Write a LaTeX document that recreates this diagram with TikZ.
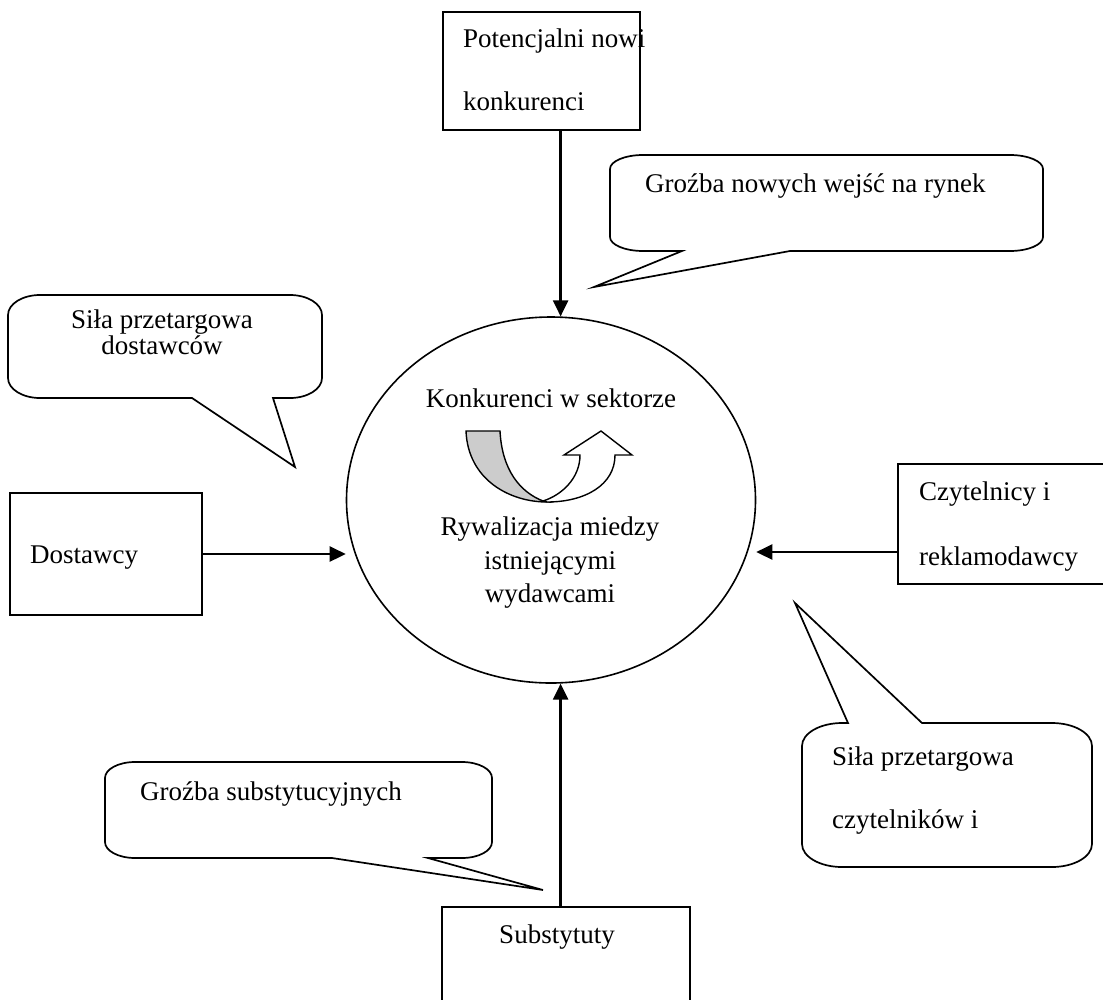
\documentclass[tikz,border=0pt]{standalone}
\usepackage{fontspec}
\setmainfont{Liberation Serif}
\usetikzlibrary{calc,arrows.meta,shapes.geometric}
\tikzset{
    box/.style={
    rectangle,draw=black,line width=2pt,inner sep=0pt
    },
    txt/.style={
    inner sep=0pt,align=left,font=\fontsize{27}{27}\selectfont
    },
    bubble/.style={
    draw=black,line width=1.7pt,line join=miter
    },
    force/.style={
    draw=black,line width=2.6pt,-{Triangle[length=16pt,width=15pt]}
    },
    turn/.style={
    draw=black,line width=1.4pt,line join=miter
    },
}
\begin{document}
\begin{tikzpicture}[x=1pt,y=-1pt]
   \useasboundingbox (0,0) rectangle (1103,999);
   \clip (0,0) rectangle (1103,999);

   \node[ellipse,draw=black,line width=1.6pt,minimum width=409pt,minimum height=366pt,inner sep=0pt] (sector) at (551,500) {};
   \node[box,minimum width=197pt,minimum height=118pt] (entrants) at (541.5,71) {};
   \node[box,minimum width=192pt,minimum height=122pt] (supp) at (106,554) {};
   \node[box,minimum width=212pt,minimum height=120pt] (readers) at (1004,524) {};
   \node[box,minimum width=248pt,minimum height=104pt] (subst) at (566,959) {};

   \node[txt,anchor=north west,font=\fontsize{27}{63}\selectfont] (entrantstxt) at (463,28.6) {Potencjalni nowi\\konkurenci};
   \node[txt,anchor=base west] (supptxt) at (30,563) {Dostawcy};
   \node[txt,anchor=north west,font=\fontsize{27}{65}\selectfont] (readerstxt) at (919,481.6) {Czytelnicy i\\reklamodawcy};
   \node[txt,anchor=base] (substtxt) at (557,943) {Substytuty};
   \node[txt,anchor=base] (sectortop) at (551,407) {Konkurenci w sektorze};
   \node[txt,anchor=north,align=center,font=\fontsize{27}{33.5}\selectfont] (sectorbot) at (550,516.6) {Rywalizacja miedzy\\istniejącymi\\wydawcami};

   % callouts
   \draw[bubble] (610,169) arc (180:90:33pt and 14pt) -- (1010,155) arc (90:0:33pt and 14pt)
      -- (1043,237) arc (0:-90:33pt and 14pt) -- (790,251) -- (594,287) -- (682,251)
      -- (643,251) arc (270:180:33pt and 14pt) -- cycle;
   \node[txt,anchor=base west] (entrythreat) at (645,192) {Groźba nowych wejść na rynek};

   \draw[bubble] (8,315) arc (180:90:32pt and 20pt) -- (290,295) arc (90:0:32pt and 20pt)
      -- (322,378) arc (0:-90:32pt and 20pt) -- (273,398) -- (295,467) -- (192,398)
      -- (40,398) arc (270:180:32pt and 20pt) -- cycle;
   \node[txt,anchor=north,align=center,font=\fontsize{27}{26}\selectfont] (suppower) at (162,309.6) {Siła przetargowa\\dostawców};

   \draw[bubble] (105,778) arc (180:90:30pt and 16pt) -- (462,762) arc (90:0:30pt and 16pt)
      -- (492,842) arc (0:-90:30pt and 16pt) -- (428,858) -- (543,890) -- (332,858)
      -- (135,858) arc (270:180:30pt and 16pt) -- cycle;
   \node[txt,anchor=base west] (substthreat) at (140,800) {Groźba substytucyjnych};

   \draw[bubble] (802,746) arc (180:90:40pt and 23pt) -- (848,723) -- (795,603) -- (922,723)
      -- (1052,723) arc (90:0:40pt and 23pt) -- (1092,844) arc (0:-90:40pt and 23pt)
      -- (842,867) arc (270:180:40pt and 23pt) -- cycle;
   \node[txt,anchor=north west,font=\fontsize{27}{63}\selectfont] (readpower) at (832,746.6) {Siła przetargowa\\czytelników i};

   % rivalry arrow
   \draw[turn,fill=gray!40] (466,431) -- (500,431) .. controls (502,470) and (520,492) .. (543,501)
      -- (547,502) .. controls (510,502) and (468,480) .. (466,431) -- cycle;
   \draw[turn,fill=white] (547,502) .. controls (585,502) and (615,485) .. (615,455) -- (632,455)
      -- (601,431) -- (564,455) -- (580,455) .. controls (580,478) and (562,495) .. (543,501) -- cycle;

   \coordinate (readin) at ($(readers.west)+(0,28)$);
   \draw[force] (entrants.south -| sector.87) -- (sector.87);
   \draw[force] (subst.north -| sector.273) -- (sector.273);
   \draw[force] (supp.east) -- (supp.east -| sector.west);
   \draw[force] (readin) -- (readin -| sector.east);
\end{tikzpicture}
\end{document}
